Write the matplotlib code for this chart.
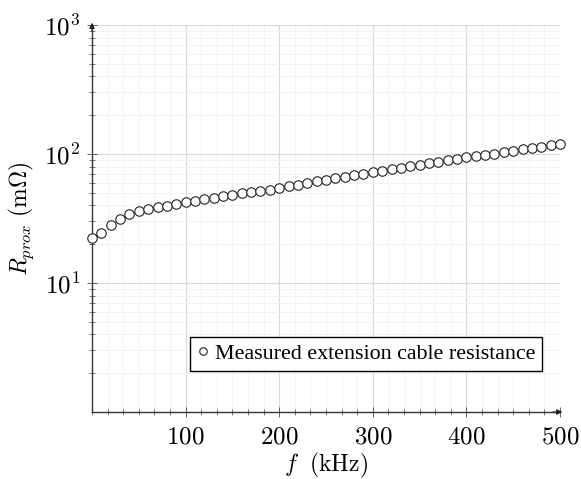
import matplotlib
matplotlib.use("Agg")
import matplotlib.pyplot as plt
from matplotlib.ticker import MultipleLocator, LogLocator, NullFormatter, FixedLocator

plt.rcParams['mathtext.fontset'] = 'cm'
plt.rcParams['font.family'] = 'DejaVu Serif'

freq_khz = [0, 10, 20, 30, 40, 50, 60, 70, 80, 90,
            100, 110, 120, 130, 140, 150, 160, 170, 180, 190,
            200, 210, 220, 230, 240, 250, 260, 270, 280, 290,
            300, 310, 320, 330, 340, 350, 360, 370, 380, 390,
            400, 410, 420, 430, 440, 450, 460, 470, 480, 490, 500]
r_prox = [22.2, 24.5, 28.3, 31.3, 34.2, 36.3, 37.6, 38.7, 39.8, 41.0,
          42.3, 43.4, 44.6, 45.8, 47.2, 48.5, 49.6, 50.7, 51.7, 52.8,
          54.5, 56.2, 58.0, 59.6, 61.4, 63.2, 64.6, 66.6, 68.4, 70.1,
          72.1, 74.1, 76.0, 77.9, 80.2, 82.6, 84.7, 87.1, 89.4, 91.6,
          94.2, 96.2, 98.8, 100.6, 103.1, 105.5, 108.6, 111.3, 113.9, 116.8, 119.6]
x_ticks = [100, 200, 300, 400, 500]
y_ticks = [10, 100, 1000]
y_tick_labels = [r'$10^{1}$', r'$10^{2}$', r'$10^{3}$']

fig = plt.figure(figsize=(5.81, 4.79), dpi=100)
ax = fig.add_axes([92/581, 1-412/479, 468/581, 387/479])

ax.set_yscale('log')
ax.set_xlim(0, 500)
ax.set_ylim(1, 1000)

ax.plot(freq_khz, r_prox, linestyle='none', marker='o', markersize=6.8,
        markerfacecolor='white', markeredgecolor='#222222', markeredgewidth=0.8,
        label='Measured extension cable resistance', zorder=5, clip_on=False)

# ticks
ax.xaxis.set_major_locator(FixedLocator(x_ticks))
ax.set_xticklabels([r'$%d$' % t for t in x_ticks])
ax.xaxis.set_minor_locator(MultipleLocator(100/6))
ax.yaxis.set_major_locator(FixedLocator(y_ticks))
ax.set_yticklabels(y_tick_labels)
ax.yaxis.set_minor_locator(LogLocator(base=10, subs=range(2, 10)))
ax.yaxis.set_minor_formatter(NullFormatter())
ax.tick_params(which='both', direction='inout', color='#444444', labelsize=18)
ax.tick_params(which='major', length=7, width=0.6)
ax.tick_params(which='minor', length=4, width=0.5)
ax.tick_params(axis='x', pad=6)
ax.tick_params(axis='y', pad=5)

# grid
ax.grid(which='major', color='#d9d9d9', linewidth=0.8)
ax.grid(which='minor', color='#f0f0f0', linewidth=0.6)
ax.set_axisbelow(True)

# axis lines with arrows
for s in ['top', 'right']:
    ax.spines[s].set_visible(False)
for s in ['left', 'bottom']:
    ax.spines[s].set_color('#333333')
    ax.spines[s].set_linewidth(1.0)
ax.annotate('', xy=(0, 1.006), xytext=(0, 0.985), xycoords='axes fraction',
            arrowprops=dict(arrowstyle='-|>', color='#222222', lw=0.8,
                            mutation_scale=8, shrinkA=0, shrinkB=0))
ax.annotate('', xy=(1.005, 0), xytext=(0.985, 0), xycoords='axes fraction',
            arrowprops=dict(arrowstyle='-|>', color='#222222', lw=0.8,
                            mutation_scale=8, shrinkA=0, shrinkB=0))

ax.set_xlabel(r'$f\ \ \mathrm{(kHz)}$', fontsize=17)
ax.xaxis.set_label_coords(0.5, -0.1)
ax.set_ylabel(r'$R_{prox}\ \mathrm{(m\Omega)}$', fontsize=17)
ax.yaxis.set_label_coords(-0.12, 0.5)

leg = ax.legend(loc='center', bbox_to_anchor=(0.585, 0.15), frameon=True, fancybox=False,
                edgecolor='black', handlelength=0.6, handletextpad=0.25, borderpad=0.3,
                markerscale=0.8, prop={'family': 'Liberation Serif', 'size': 15.8})
leg.get_frame().set_linewidth(1.0)
leg.get_frame().set_alpha(1)

fig.savefig('out.png', dpi=100)
